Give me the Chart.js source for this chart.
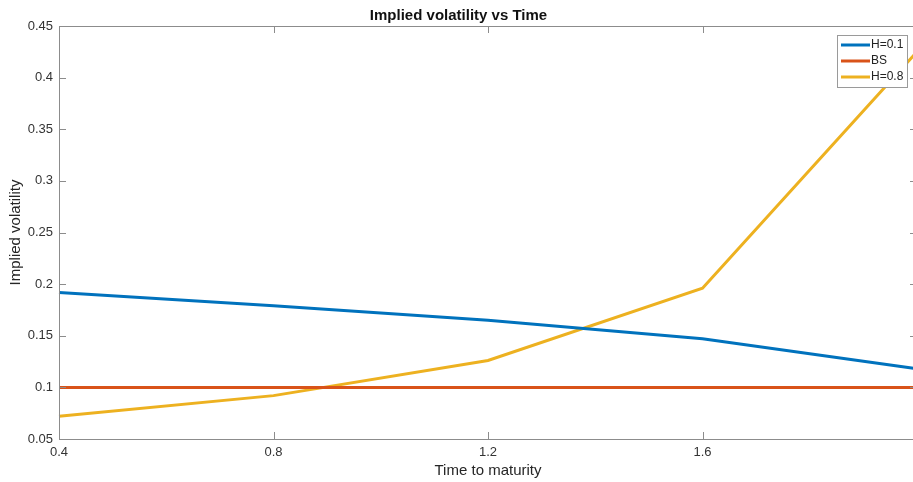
<!DOCTYPE html>
<html>
<head>
<meta charset="utf-8">
<title>Implied volatility vs Time</title>
<script src="https://cdn.jsdelivr.net/npm/chart.js@4/dist/chart.umd.min.js"></script>
<style>
    html, body { margin: 0; padding: 0; background: #fff; overflow: hidden; }
    #volChart { display: block; }
</style>
</head>
<body>
<canvas id="volChart" width="921" height="482"></canvas>
<script>
// values
const timeToMaturity = [0.4, 0.8, 1.2, 1.6, 2.0];
const volH01 = [0.192, 0.179, 0.165, 0.147, 0.118];
const volBS = [0.1, 0.1, 0.1, 0.1, 0.1];
const volH08 = [0.072, 0.092, 0.126, 0.196, 0.425];

const seriesLabels = ['H=0.1', 'BS', 'H=0.8'];
const seriesColors = ['#0072BD', '#D95319', '#EDB120'];

const FONT = 'Liberation Sans, Arial, sans-serif';
const AXIS_GRAY = '#8c8c8c';

class VolatilityChart {
    constructor(canvasId) {
        this.ctx = document.getElementById(canvasId).getContext('2d');
        this.chart = null;
        this.init();
    }

    init() {
        const values = [volH01, volBS, volH08];
        this.chart = new Chart(this.ctx, {
            type: 'line',
            data: {
                datasets: values.map((v, i) => this.createDataset(seriesLabels[i], v, seriesColors[i]))
            },
            options: this.getChartOptions(),
            plugins: [this.boxPlugin(), this.legendPlugin()]
        });
    }

    createDataset(label, data, borderColor) {
        return {
            label,
            data: timeToMaturity.map((t, i) => ({ x: t, y: data[i] })),
            borderColor,
            backgroundColor: borderColor,
            borderWidth: 3,
            pointRadius: 0,
            tension: 0,
            clip: false
        };
    }

    getChartOptions() {
        return {
            responsive: false,
            animation: false,
            layout: { padding: { top: 0, right: 4, bottom: 0, left: 0 } },
            plugins: {
                legend: { display: false },
                tooltip: { enabled: false },
                title: {
                    display: true,
                    text: 'Implied volatility vs Time',
                    color: '#111',
                    font: { family: FONT, size: 15, weight: 'bold', lineHeight: 1.2 },
                    padding: { top: 7, bottom: 1 }
                }
            },
            scales: {
                x: {
                    type: 'linear',
                    min: 0.4,
                    max: 2.0,
                    grid: { display: false, drawTicks: false },
                    border: { display: false },
                    ticks: {
                        stepSize: 0.4,
                        padding: 6,
                        color: '#333',
                        maxRotation: 0,
                        font: { family: FONT, size: 13 },
                        callback: v => Number(v.toFixed(1)).toString()
                    },
                    title: {
                        display: true,
                        text: 'Time to maturity',
                        color: '#262626',
                        font: { family: FONT, size: 15 },
                        padding: { top: 0, bottom: 2 }
                    },
                    afterFit: scale => {
                        scale.height = 43;
                        // let the last tick label hang past the edge, as in the source
                        scale.paddingLeft = 0;
                        scale.paddingRight = 0;
                    }
                },
                y: {
                    min: 0.05,
                    max: 0.45,
                    grid: { display: false, drawTicks: false },
                    border: { display: false },
                    ticks: {
                        stepSize: 0.05,
                        padding: 6,
                        color: '#333',
                        font: { family: FONT, size: 13 },
                        callback: v => Number(v.toFixed(2)).toString()
                    },
                    title: {
                        display: true,
                        text: 'Implied volatility',
                        color: '#262626',
                        font: { family: FONT, size: 15 },
                        padding: { top: 7, bottom: 0 }
                    },
                    afterFit: scale => { scale.width = 59; }
                }
            }
        };
    }

    // MATLAB style box with inward ticks on all four sides
    boxPlugin() {
        return {
            id: 'matlabBox',
            afterDatasetsDraw(chart) {
                const { ctx, chartArea: a, scales } = chart;
                const len = 7;
                ctx.save();
                ctx.strokeStyle = AXIS_GRAY;
                ctx.lineWidth = 1;
                ctx.strokeRect(a.left + 0.5, a.top + 0.5, a.right - a.left, a.bottom - a.top);
                ctx.beginPath();
                scales.x.ticks.forEach(t => {
                    const px = Math.round(scales.x.getPixelForValue(t.value)) + 0.5;
                    ctx.moveTo(px, a.bottom); ctx.lineTo(px, a.bottom - len);
                    ctx.moveTo(px, a.top); ctx.lineTo(px, a.top + len);
                });
                scales.y.ticks.forEach(t => {
                    const py = Math.round(scales.y.getPixelForValue(t.value)) + 0.5;
                    ctx.moveTo(a.left, py); ctx.lineTo(a.left + len, py);
                    ctx.moveTo(a.right, py); ctx.lineTo(a.right - len, py);
                });
                ctx.stroke();
                ctx.restore();
            }
        };
    }

    // boxed legend in the top right corner of the plot
    legendPlugin() {
        return {
            id: 'cornerLegend',
            afterDraw(chart) {
                const { ctx, chartArea: a } = chart;
                const w = 70, h = 52, rowH = 16;
                const x0 = a.right - 80, y0 = a.top + 9;
                ctx.save();
                ctx.fillStyle = '#fff';
                ctx.fillRect(x0, y0, w, h);
                ctx.strokeStyle = '#9a9a9a';
                ctx.lineWidth = 1;
                ctx.strokeRect(x0 + 0.5, y0 + 0.5, w, h);
                ctx.font = '12px ' + FONT;
                ctx.textBaseline = 'middle';
                chart.data.datasets.forEach((ds, i) => {
                    const cy = y0 + 10 + i * rowH;
                    ctx.strokeStyle = ds.borderColor;
                    ctx.lineWidth = 3;
                    ctx.beginPath();
                    ctx.moveTo(x0 + 4, cy);
                    ctx.lineTo(x0 + 33, cy);
                    ctx.stroke();
                    ctx.fillStyle = '#222';
                    ctx.fillText(ds.label, x0 + 34, cy);
                });
                ctx.restore();
            }
        };
    }
}

document.addEventListener('DOMContentLoaded', () => {
    new VolatilityChart('volChart');
});
</script>
</body>
</html>
